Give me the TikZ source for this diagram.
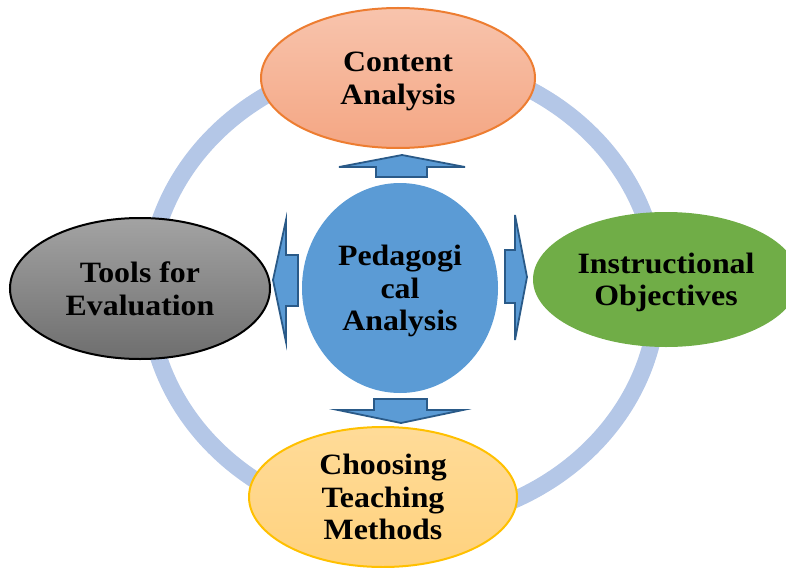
\documentclass[tikz,border=0pt]{standalone}
\usepackage{fontspec}
\setmainfont{Liberation Serif}[FakeStretch=1.08]
\usetikzlibrary{shapes.geometric}
\definecolor{ringblue}{HTML}{B4C7E7}
\definecolor{midblue}{HTML}{5B9BD5}
\definecolor{arrowedge}{HTML}{2A5A88}
\definecolor{peachtop}{HTML}{F8C4AD}
\definecolor{peachbot}{HTML}{F4A683}
\definecolor{peachedge}{HTML}{ED7D31}
\definecolor{greyTop}{HTML}{A3A3A3}
\definecolor{greyBot}{HTML}{6E6E6E}
\definecolor{leafgreen}{HTML}{70AD47}
\definecolor{goldtop}{HTML}{FFDB98}
\definecolor{goldbot}{HTML}{FFD27E}
\definecolor{goldedge}{HTML}{FFC000}
\tikzset{
  lbl/.style={ellipse, inner sep=0pt, align=center, text depth=0pt,
    font=\bfseries\fontsize{29.5}{32.5}\selectfont, text=black},
  blockarrow/.style={fill=midblue, draw=arrowedge, line width=1.8pt, line join=miter}
}
\begin{document}
\begin{tikzpicture}[x=1pt, y=-1pt]
\useasboundingbox (0,0) rectangle (786,567);
\clip (0,0) rectangle (786,567);
% ring
\draw[ringblue, line width=17pt] (403,291) ellipse [x radius=255, y radius=232];
% outer ellipses
\node[lbl, minimum width=274pt, minimum height=140pt, top color=peachtop, bottom color=peachbot, draw=peachedge, line width=2pt]
  (content) at (398,78) {Content\\Analysis};
\node[lbl, minimum width=260pt, minimum height=141pt, top color=greyTop, bottom color=greyBot, draw=black, line width=2pt]
  (tools) at (140,288.5) {Tools for\\Evaluation};
\node[lbl, minimum width=266pt, minimum height=135pt, fill=leafgreen]
  (objectives) at (666,279.5) {Instructional\\Objectives};
\node[lbl, minimum width=268pt, minimum height=140pt, top color=goldtop, bottom color=goldbot, draw=goldedge, line width=2pt]
  (methods) at (383,497) {Choosing\\Teaching\\Methods};
% centre
\node[lbl, minimum width=196pt, minimum height=210pt, fill=midblue]
  (pedagogy) at (400,288) {Pedagogi\\cal\\Analysis};
% block arrows
\draw[blockarrow] (376,177) -- (376,167) -- (339,167) -- (402,155) -- (465,167) -- (427,167) -- (427,177) -- cycle;
\draw[blockarrow] (374,399) -- (427,399) -- (427,410) -- (463,410) -- (401,423) -- (338,410) -- (374,410) -- cycle;
\draw[blockarrow] (298,255) -- (298,306) -- (286,306) -- (286,342) -- (273,280) -- (286,220) -- (286,255) -- cycle;
\draw[blockarrow] (505,250) -- (515,250) -- (515,215) -- (527,277) -- (515,340) -- (515,303) -- (505,303) -- cycle;
\end{tikzpicture}
\end{document}
